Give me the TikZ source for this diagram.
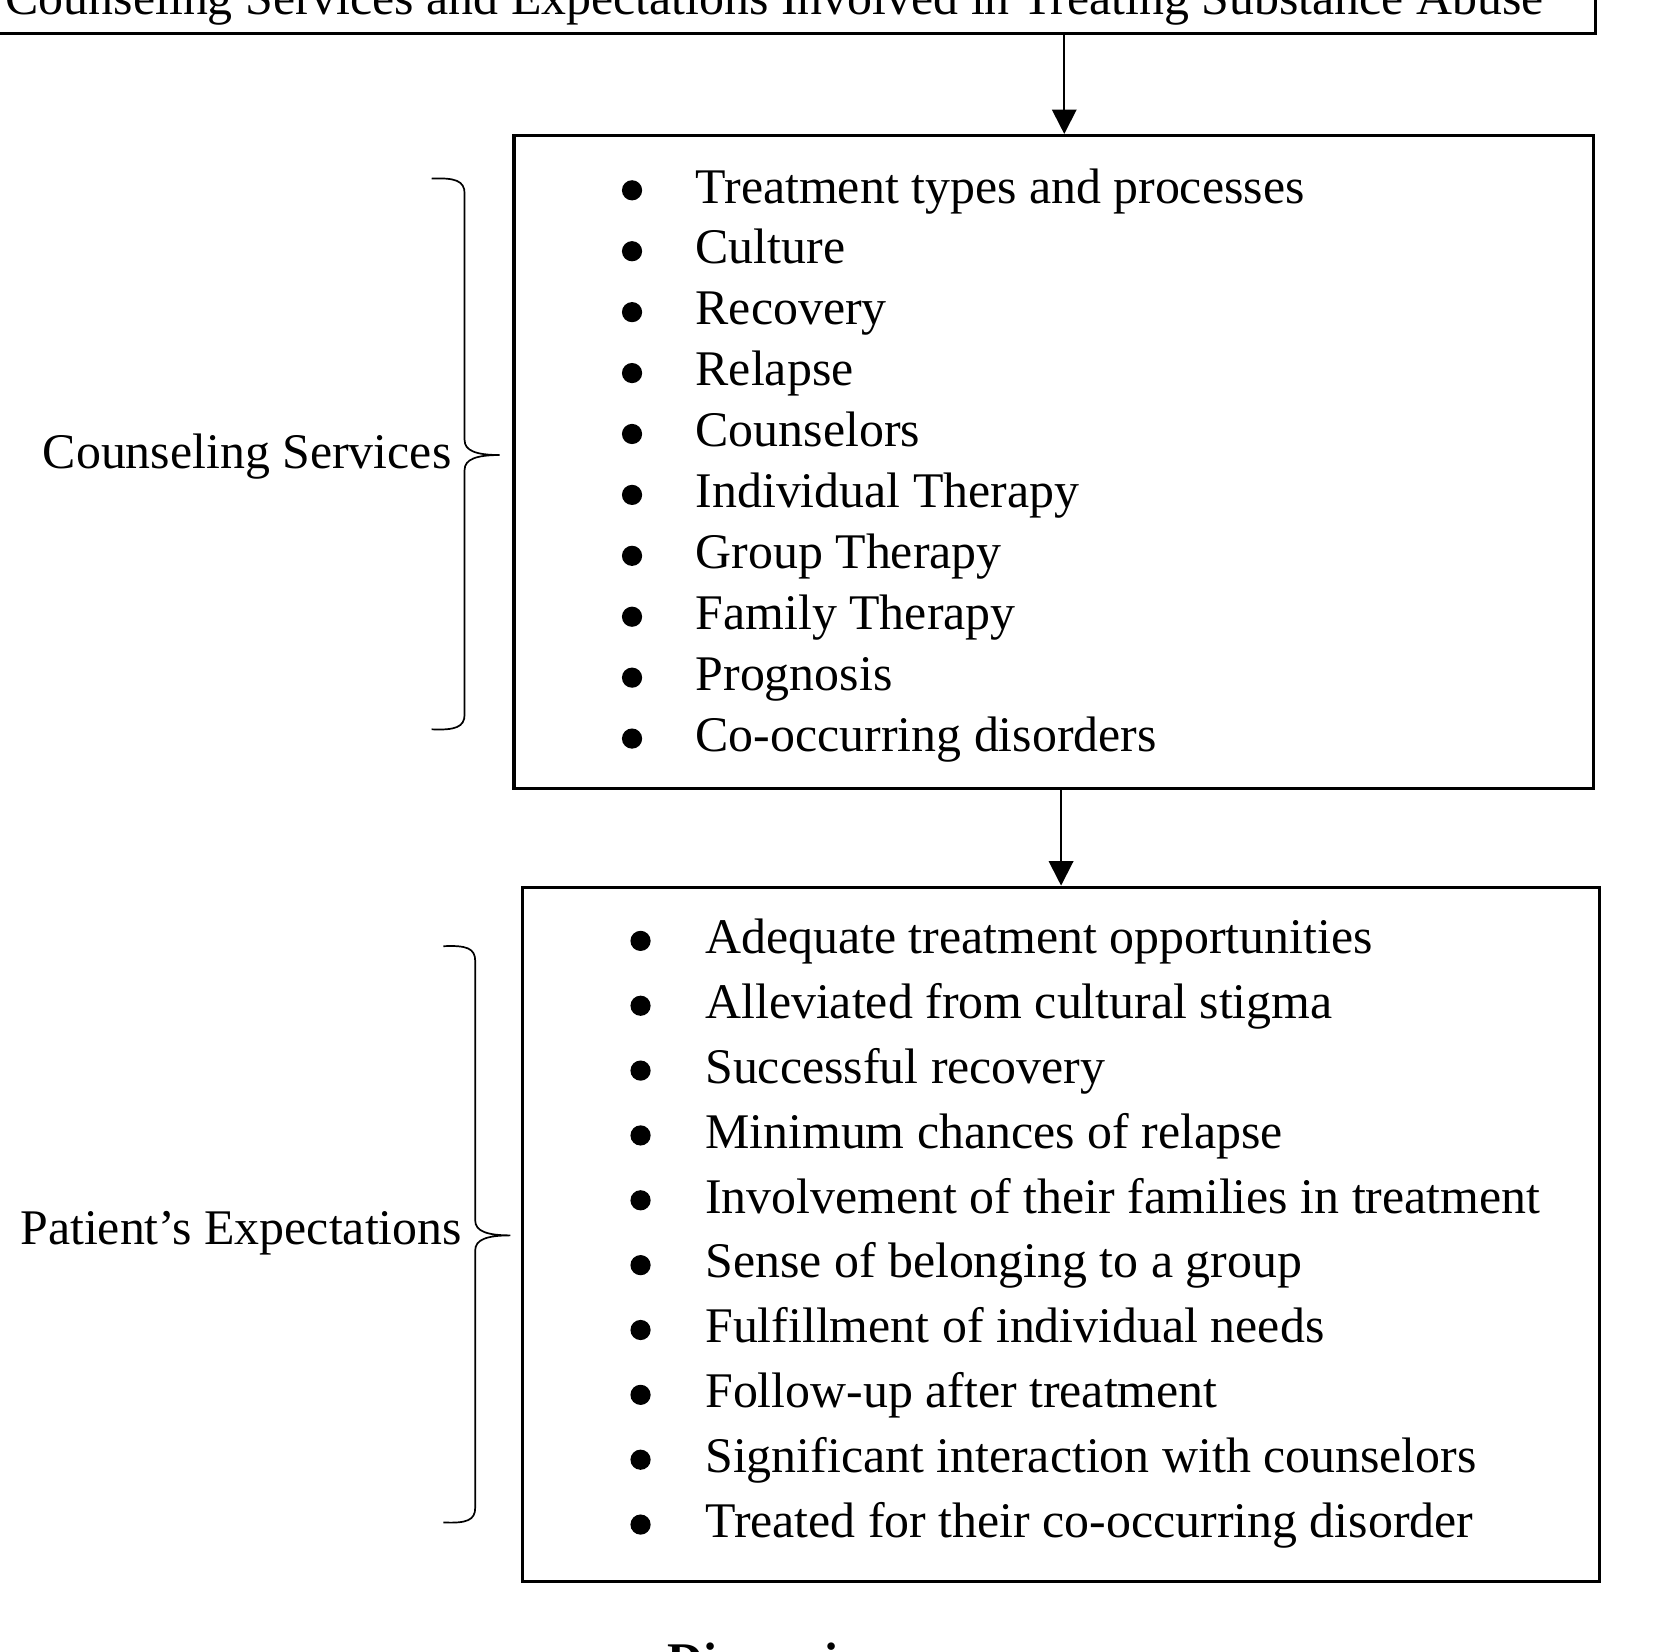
\documentclass[tikz,border=0pt]{standalone}
\usepackage{fontspec}
\setmainfont{Liberation Serif}
\usetikzlibrary{arrows.meta}
\tikzset{
  txt/.style={font=\fontsize{23.45}{28}\selectfont, inner sep=0pt, anchor=base west},
  boxst/.style={draw, line width=1.55pt, inner sep=0pt},
  arr/.style={-{Triangle[width=11.5pt,length=11.5pt]}, line width=0.95pt},
  dotst/.style={circle, fill=black, inner sep=0pt, minimum size=9.5pt},
  bracest/.style={line width=0.8pt},
}
\begin{document}
\begin{tikzpicture}[x=0.5pt,y=-0.5pt]
\useasboundingbox (0,0) rectangle (1568,1553);
\clip (0,0) rectangle (1568,1553);
% title box
\node[boxst, minimum width=768.5pt, minimum height=50pt, anchor=south east] (titlebox) at (1502,33) {};
\node[txt] (title) at (5,14) {Counseling Services and Expectations Involved in Treating Substance Abuse};
% counseling services box
\node[boxst, minimum width=507.5pt, minimum height=307pt, anchor=north west] (cs) at (482,126) {};
\foreach \t [count=\i from 0] in {Treatment types and processes, Culture, Recovery, Relapse, Counselors, Individual Therapy, Group Therapy, Family Therapy, Prognosis, Co-occurring disorders}{
  \node[dotst] (csb\i) at (594.5,{179+57.3*\i}) {};
  \node[txt] (cst\i) at (654,{191+57.3*\i}) {\t};
}
% patient's expectations box
\node[boxst, minimum width=506.5pt, minimum height=326.5pt, anchor=north west] (pe) at (490,833) {};
\foreach \t [count=\i from 0] in {Adequate treatment opportunities, Alleviated from cultural stigma, Successful recovery, Minimum chances of relapse, Involvement of their families in treatment, Sense of belonging to a group, Fulfillment of individual needs, Follow-up after treatment, Significant interaction with counselors, Treated for their co-occurring disorder}{
  \node[dotst] (peb\i) at (602.5,{885+61*\i}) {};
  \node[txt] (pet\i) at (663,{897+61*\i}) {\t};
}
% arrows
\draw[arr] ([xshift=5pt]cs.north |- titlebox.south) -- ([xshift=5pt]cs.north);
\draw[arr] (pe.north |- cs.south) -- (pe.north);
% labels
\node[txt, anchor=base east] (cslab) at (425,441) {Counseling Services};
\node[txt, anchor=base east] (pelab) at (435,1171) {Patient’s Expectations};
% braces
\draw[bracest] (406,168) .. controls (428,167) and (437,170) .. (437,182) -- (437,414)
  .. controls (437,424) and (448,428) .. (470,428)
  .. controls (448,428) and (437,432) .. (437,442) -- (437,672)
  .. controls (437,684) and (428,687) .. (406,686);
\draw[bracest] (417,890) .. controls (439,889) and (447,892) .. (447,904) -- (447,1148)
  .. controls (447,1158) and (458,1162) .. (480,1162)
  .. controls (458,1162) and (447,1166) .. (447,1176) -- (447,1418)
  .. controls (447,1430) and (439,1433) .. (417,1432);
% bottom heading
\node[txt, font=\fontsize{23.45}{28}\selectfont\bfseries] (disc) at (627,1578) {Discussion};
\end{tikzpicture}
\end{document}
